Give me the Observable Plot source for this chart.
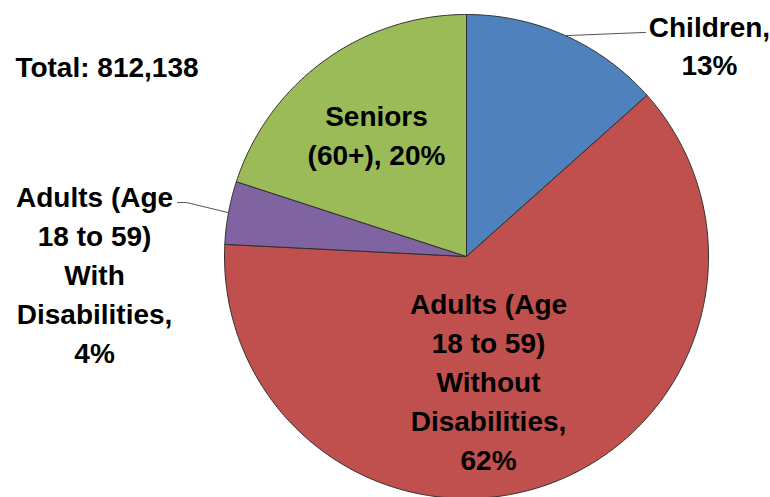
<!DOCTYPE html>
<html>
<head>
<meta charset="utf-8">
<script src="https://cdn.jsdelivr.net/npm/d3@7"></script>
<script src="https://cdn.jsdelivr.net/npm/@observablehq/plot@0.6"></script>
<style>
  html, body { margin: 0; padding: 0; background: #fff; }
  #chart svg { display: block; }
</style>
</head>
<body>
<div id="chart"></div>
<script>
// ---- data ----
const categories = ["Children", "Adults (Age 18 to 59) Without Disabilities", "Adults (Age 18 to 59) With Disabilities", "Seniors (60+)"];
const shares = [13.4, 62.4, 4.2, 20.0];
const shareLabels = ["13%", "62%", "4%", "20%"];
const labelText = [
  "Children,\n13%",
  "Adults (Age\n18 to 59)\nWithout\nDisabilities,\n62%",
  "Adults (Age\n18 to 59)\nWith\nDisabilities,\n4%",
  "Seniors\n(60+), 20%"
];
const totalLabel = "Total: 812,138";

// ---- styles / layout ----
const colors = ["#4F81BD", "#C0504D", "#8064A2", "#9BBB59"];
// label anchor positions in pie-radius units (center = 0,0)
const labelPos = [[1.004, 0.880], [0.091, -0.508], [-1.537, -0.066], [-0.372, 0.512]];
// leader line elbows (null = no leader)
const leaderEnds = [[[0.740, 0.926]], null, [[-1.157, 0.223], [-1.194, 0.223]], null];
const totalPos = [-1.864, 0.777];

const arcs = d3.pie().sort(null).value(d => d)(shares);

const slices = arcs.map((a, i) => {
  const pts = [{x: 0, y: 0}];
  const n = Math.max(2, Math.ceil((a.endAngle - a.startAngle) / (Math.PI / 360)));
  for (let k = 0; k <= n; k++) {
    const t = a.startAngle + (a.endAngle - a.startAngle) * k / n;
    pts.push({x: Math.sin(t), y: Math.cos(t)});
  }
  pts.push({x: 0, y: 0});
  return pts;
});

const leaders = [];
arcs.forEach((a, i) => {
  if (!leaderEnds[i]) return;
  const m = (a.startAngle + a.endAngle) / 2;
  const pts = [{x: Math.sin(m), y: Math.cos(m), id: i}].concat(leaderEnds[i].map(p => ({x: p[0], y: p[1], id: i})));
  leaders.push(...pts);
});

const labels = labelText.map((t, i) => ({text: t, x: labelPos[i][0], y: labelPos[i][1]}));

const marks = [];
slices.forEach((pts, i) => {
  marks.push(Plot.line(pts, {x: "x", y: "y", fill: colors[i], stroke: "#2f2f2f", strokeWidth: 1, strokeLinejoin: "round"}));
});
marks.push(Plot.line(leaders, {x: "x", y: "y", z: "id", stroke: "#555", strokeWidth: 1}));
marks.push(Plot.text(labels, {x: "x", y: "y", text: "text", fontSize: 28, fontWeight: "bold", fill: "#000", lineHeight: 1.39, textAnchor: "middle"}));
marks.push(Plot.text([totalLabel], {x: () => totalPos[0], y: () => totalPos[1], text: d => d, fontSize: 28, fontWeight: "bold", fill: "#000", textAnchor: "start"}));

const chart = Plot.plot({
  width: 770,
  height: 497,
  x: {domain: [-1, 1], range: [224, 708], axis: null},
  y: {domain: [-1, 1], range: [498, 14], axis: null},
  style: {fontFamily: "'Liberation Sans', Arial, sans-serif", background: "#fff", overflow: "visible"},
  marks
});
document.getElementById("chart").appendChild(chart);
</script>
</body>
</html>
